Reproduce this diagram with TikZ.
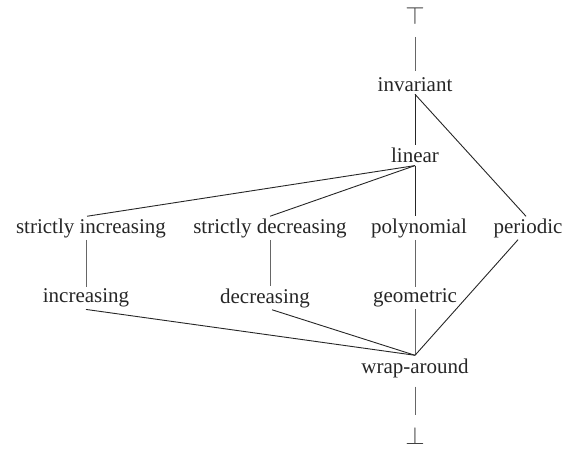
\documentclass[tikz,border=0pt]{standalone}
\usepackage{fontspec}
\setmainfont{Liberation Serif}
\begin{document}
\begin{tikzpicture}[x=1pt,y=-1pt,
  lbl/.style={font=\fontsize{21}{23}\selectfont, text=black!85, inner sep=2pt},
  sym/.style={font=\fontsize{30}{32}\selectfont, text=black!75, inner sep=0pt},
  edge/.style={draw=black!85, line width=0.9pt},
  faint/.style={draw=black!60, line width=0.8pt}]
\useasboundingbox (0,0) rectangle (564,448);
\node[sym] (top) at (415,16) {$\top$};
\node[lbl] (inv) at (415,85) {invariant};
\node[lbl] (lin) at (415,155) {linear};
\node[lbl] (si) at (91,228) {strictly increasing};
\node[lbl] (sd) at (270,228) {strictly decreasing};
\node[lbl] (poly) at (419,228) {polynomial};
\node[lbl] (per) at (528,228) {periodic};
\node[lbl] (inc) at (86,298) {increasing};
\node[lbl] (dec) at (265,298) {decreasing};
\node[lbl] (geo) at (415,298) {geometric};
\node[lbl] (wrap) at (415,368) {wrap-around};
\node[sym] (bot) at (415,436) {$\bot$};
\coordinate (linS) at ([yshift=-1pt]lin.south);
\coordinate (wrapN) at ([yshift=1pt]wrap.north);
\draw[faint] ([yshift=-12pt]top.south) -- ([yshift=5pt]inv.north);
\draw[edge] (inv.south) -- (lin.north);
\draw[edge] (inv.south) -- ([xshift=-2pt]per.north);
\draw[edge] (linS) -- ([xshift=-4pt]si.north);
\draw[edge] (linS) -- (sd.north);
\draw[edge] (linS) -- (lin.south |- poly.north);
\draw[faint] (si.south -| inc.north) -- (inc.north);
\draw[faint] (sd.south) -- (sd.south |- dec.north);
\draw[faint] (geo.north |- poly.south) -- (geo.north);
\draw[edge] (inc.south) -- (wrapN);
\draw[edge] ([xshift=7pt]dec.south) -- (wrapN);
\draw[faint] (geo.south) -- (wrapN);
\draw[edge] ([xshift=-10pt]per.south) -- (wrapN);
\draw[faint] ([yshift=-7pt]wrap.south) -- ([yshift=12pt]bot.north);
\end{tikzpicture}
\end{document}
